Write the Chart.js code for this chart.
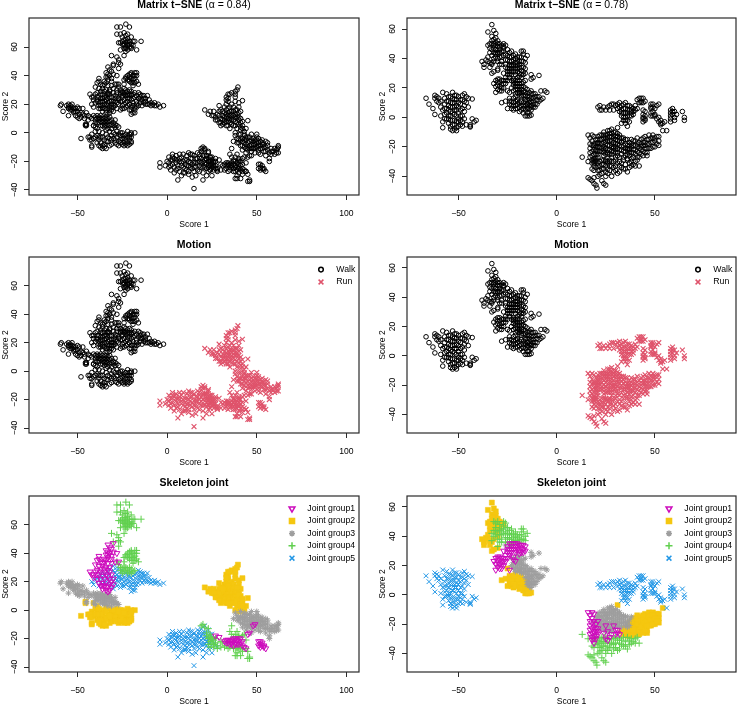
<!DOCTYPE html>
<html>
<head>
<meta charset="utf-8">
<title>Matrix t-SNE</title>
<script src="https://cdn.jsdelivr.net/npm/chart.js@4/dist/chart.umd.js"></script>
<style>
  html, body { margin: 0; padding: 0; background: #fff; }
  body { position: relative; width: 737px; height: 707px; overflow: hidden; }
  canvas { position: absolute; }
</style>
</head>
<body>
<script>
// alpha = 0.84 embedding
const leftJoint1Walk = [[-30,47],[-33,46],[-32,44],[-31,43],[-33,41],[-32,40],[-34,39],[-31,38],[-33,37],[-35,36],[-31,36],[-38,38],[-39,35],[-37,34],[-35,34],[-33,33],[-31,33],[-29,34],[-27,34],[-28,40],[-40,32],[-38,31],[-36,31],[-34,30],[-32,30],[-39,28],[-37,27],[-35,27],[-32,27],[-43,27],[-42,25],[-40,27],[-41,23],[-38,25],[-36,24],[-33,24],[-31,25],[-30,22],[-32,22],[-34,20],[-36,19],[-38,19],[-37,17],[-35,17],[-33,17],[-31,16],[-36,15],[-34,14],[-33,13],[-32,14],[-30,18],[-31,20],[-39,22],[-35,22],[-34,42],[-33,39],[-36,33],[-34,35],[-37,29],[-35,29],[-33,28],[-41,25],[-39,25],[-37,22],[-34,25],[-36,17.5],[-34,16],[-32,18],[-38,36],[-30,41]];
const leftJoint1Run = [[32,-22],[33,-23],[34,-21],[34,-23],[35,-24],[36,-21],[36,-23],[37,-22],[37,-25],[38,-20],[38,-23],[39,-21],[39,-24],[40,-22],[41,-20],[41,-23],[42,-25],[43,-26],[44,-27],[45,-17],[46,-16],[48,-11],[49,-10],[51,-22],[52,-24],[52,-22],[53,-23],[53,-25],[51,-25],[54,-25],[54,-26],[55,-27],[52,-26],[27,-18],[29,-19],[36,-24],[42,-22],[33,-21],[35,-22],[37,-20],[38,-24],[40,-24],[40,-20]];
const leftJoint2Walk = [[-48,-4],[-45.5,6],[-45.5,5],[-42,-1],[-44,-3],[-43,-5],[-41,-4],[-41,5],[-39,3],[-40,1],[-42,-9],[-42,-10],[-39,-2],[-38,-5],[-37,-3],[-36,-9],[-36,-11],[-37,-10],[-35,-8],[-34,-11],[-35,-5],[-33,-3],[-33,-6],[-32,-9],[-31,-8],[-36,0],[-34,2],[-32,1],[-31,-2],[-30,-4],[-29,-1],[-28,1],[-28,-3],[-27,-6],[-27,-9],[-26,-2],[-26,-5],[-25,0],[-25,-8],[-24,-4],[-24,-7],[-24,-9],[-23,-1],[-23,-5],[-22,1],[-22,-3],[-22,-7],[-22,-9],[-21,-5],[-21,-1],[-20,-3],[-20,0],[-20,-7],[-20,-6],[-18,0],[-30,0],[-38,1],[-39,-7],[-43,-3],[-42,-5],[-40,-3],[-38,-3],[-36,-3],[-34,-6],[-34,-1],[-31,-5],[-29,-5],[-29,-7],[-28,-8],[-26,-7],[-25,-4],[-23,-3],[-23,-8],[-21,-3],[-21,-8],[-20,-1],[-26,0],[-32,-4],[-37,-7],[-27,-1],[-24,-2],[-35,-10],[-38,-9]];
const leftJoint2Run = [[21,16],[23,13],[24,15],[26,15],[25,12],[27,11],[28,13],[29,15],[28,9],[30,10],[30,7],[29,19],[30,16],[32,18],[33,20],[34,22],[33,25],[35,27],[36,28],[34,24],[35,18],[36,20],[38,25],[38,29],[39,30],[39.5,32],[38,22],[40,21],[42,22.5],[32,14],[32,11],[33,8],[33,5],[34,14],[34,10],[35,12],[35,7],[36,15],[36,9],[37,12],[37,5],[38,16],[38,8],[39,11],[39,3],[40,14],[40,6],[41,10],[41,2],[42,5],[43,1],[44,3],[45,8.5],[30,5],[31,12],[35,3],[38,0],[40,-1],[43,-1],[26,12],[33,16],[37,18],[40,18],[41,15],[36,6],[32,7],[34,5],[31,9],[31,6],[32,9],[33,11],[33,13],[34,8],[34,12],[34,17],[35,9],[35,15],[36,11],[36,13],[37,9],[37,15],[38,11],[38,5],[38,13],[39,7],[39,13],[39,16],[40,9],[40,11],[41,7],[41,4],[42,8],[42,3],[29,12],[31,15],[27,9],[29,7],[34,27],[33,23],[38,27]];
const leftJoint3Walk = [[-59.5,19],[-59,20],[-58,15],[-55,20],[-54,19],[-53,20],[-55,17],[-54,16],[-53,18],[-52,17],[-51,17],[-50,18],[-49,17],[-47,17],[-55,12],[-52,14],[-51,12],[-50,11],[-49,10],[-48,14],[-47,13],[-46,12],[-45,14],[-44,12],[-43,11],[-42,10],[-41,12],[-40,11],[-39,12],[-38,11],[-37,12],[-36,11],[-35,10],[-34,9],[-33,10],[-32,8],[-31,9],[-30,7],[-38,9],[-37,8],[-36,7],[-35,6],[-34,7],[-33,6],[-32,5],[-30,5],[-29,4],[-28,5],[-39,7],[-41,5],[-40,4],[-37,5],[-35,4],[-33,3],[-45,6],[-45,5],[-29,9],[-27,4],[-56,19],[-55,18],[-54,17.5],[-52,15],[-50,15],[-49,13],[-48,11],[-46,10],[-44,9],[-40,9],[-39,10],[-36,9],[-35,8],[-34,11],[-33,8],[-32,11],[-31,6],[-37,10],[-38,7],[-36,5],[-34,5],[-31,3],[-29,6],[-40,7],[-51,15],[-53,16]];
const leftJoint3Run = [[37,-6],[38,-2],[39,-4],[40,-7],[41,-1],[41,-9],[42,-4],[42,-6],[43,-10],[43,-2],[44,-5],[44,-8],[45,-3],[45,-12],[46,-6],[46,-9],[47,-1],[47,-13],[48,-4],[48,-8],[48,-11],[49,-5],[49,-14],[50,-3],[50,-7],[50,-10],[51,-4],[51,-12],[52,-6],[52,-9],[52,-15],[53,-5],[53,-11],[54,-8],[54,-13],[55,-6],[55,-10],[55,-16],[56,-9],[56,-12],[57,-18],[57,-14],[57,-20],[58,-15],[58,-11],[59,-13],[60,-15],[60,-11],[61,-12],[62,-10],[62,-14],[62,-9],[61.5,-11],[47,-16],[44,-14],[40,-5],[42,-12],[50,-1],[41,-5],[42,-9],[43,-7],[44,-11],[45,-7],[46,-3],[46,-11],[47,-5],[47,-8],[48,-6],[49,-8],[49,-11],[50,-5],[51,-7],[51,-9],[52,-11],[53,-8],[53,-7],[54,-10],[56,-7],[45,-10],[44,-3],[58,-13],[61,-14],[47,-11],[43,-5],[39,-7],[55,-13],[51,-14]];
const leftJoint4Walk = [[-28,74],[-26,74],[-23,76],[-21,74],[-28,69],[-26,69],[-24,70],[-23,68],[-22,66],[-20,67],[-27,63],[-26,63],[-25,64],[-24,65],[-23,63],[-22,62],[-21,64],[-20,62],[-19,64],[-18,64],[-14.5,64],[-26,58],[-24,59],[-23,57],[-22,58],[-22,61],[-21,60],[-20,59],[-17,58],[-24,54],[-23,60],[-24,61],[-31,54],[-28,53],[-27,51],[-26,48],[-27,45],[-27,49],[-30,48],[-24,37],[-23,38],[-22,37],[-22,40],[-21,36],[-20,38],[-20,41],[-19,37],[-19,40],[-18,42],[-18,38],[-17,36],[-16,34],[-18,35],[-20,35],[-19,33],[-21,39],[-24,34],[-17,40],[-17,42],[-20,42],[-27,32],[-28,34],[-26,30],[-25,29],[-24,31],[-24,27],[-23,28],[-22,29],[-22,26],[-21,27],[-20,26],[-20,29],[-19,27],[-25,62],[-23,65],[-22,64],[-24,62],[-21,62],[-20,60],[-23,59],[-22,69],[-25,67],[-19,61],[-23,39],[-21,41],[-21,37],[-19,35],[-18,40],[-26,28],[-23,30],[-25,26],[-18,28],[-21,30]];
const leftJoint4Run = [[19,-11],[20,-10],[21,-12],[23,-13],[22,-16],[24,-17],[23,-20],[25,-19],[24,-22],[26,-21],[25,-24],[26,-24],[27,-23],[28,-25],[30,-26],[28,-27],[32,-26],[34,-27],[35,-26],[36,-11],[35,-15],[36,-17],[37,-19],[39,-15],[40,-19],[43,-17],[37,-27],[39,-26],[40,-28],[38,-32],[39,-32],[41,-32],[42,-27],[44,-27],[45,-29],[46,-33],[46,-34],[45,-34],[39,-30],[42,-29],[40,-25],[25,-21],[23,-24],[27,-20],[24,-19],[22,-18],[26,-26],[33,-25],[38,-27],[41,-26],[34,-22],[40,-18],[38,-17],[24,-26],[31,-23],[30,-22],[44,-21],[42,-18]];
const leftJoint5Walk = [[-42,20],[-40,21],[-39,23],[-38,21],[-37,24],[-36,22],[-34,23],[-33,27],[-32,25],[-30,28],[-29,26],[-28,30],[-33,21],[-31,22],[-29,22],[-27,24],[-25,25],[-24,23],[-22,24],[-20,23],[-31,18],[-29,19],[-27,20],[-25,19],[-26,16],[-24,17],[-23,21],[-22,19],[-21,16],[-20,18],[-19,21],[-18,18],[-17,20],[-16,24],[-16,28],[-15,25],[-14,23],[-14,19],[-13,26],[-12,24],[-11,26],[-12,22],[-11,20],[-10,23],[-9,21],[-8,20],[-7,21],[-6,19],[-5,20],[-4,18],[-2,19],[-19,14],[-20,13],[-20,16],[-18,16],[-21,24],[-23,26],[-26,27],[-25,22],[-28,17],[-30,15],[-27,23],[-18,25],[-17,22],[-15,21],[-20,27],[-13,21],[-28,25],[-36,27],[-35,25],[-41,18],[-38,17],[-37,19],[-35,20],[-33,19],[-32,16],[-30,20],[-29,24],[-28,21],[-26,22],[-25,17],[-24,20],[-23,18],[-22,22],[-21,20],[-19,24],[-19,19],[-17,26],[-17,18],[-15,27],[-15,23],[-14,26],[-13,24],[-12,20],[-10,20],[-9,19],[-7,19],[-25,28],[-22,27],[-32,29],[-30,31],[-28,28],[-18,14],[-21,20],[-16,19]];
const leftJoint5Run = [[-4,-21],[-4,-24],[-1,-23],[0,-20],[1,-17],[1,-21],[1,-24],[2,-19],[2,-26],[3,-15],[3,-22],[4,-24],[4,-28],[4,-18],[5,-16],[5,-21],[5,-26],[6,-33],[6,-19],[6,-23],[7,-15],[7,-27],[8,-21],[8,-17],[9,-24],[9,-15],[9,-28],[10,-19],[10,-22],[11,-16],[11,-26],[12,-14],[12,-29],[12,-20],[13,-24],[13,-18],[14,-31],[14,-15],[15,-21],[15,-39],[15,-27],[16,-18],[16,-24],[16,-30],[17,-14],[17,-21],[18,-27],[18,-17],[19,-24],[19,-13],[20,-20],[20,-33],[20,-28],[21,-16],[21,-24],[22,-30],[22,-19],[23,-27],[23,-14],[24,-17],[24,-26],[25,-30],[27,-25],[28,-26],[3,-19],[7,-20],[11,-23],[14,-25],[18,-20],[22,-22],[2,-23],[3,-17],[5,-19],[6,-25],[7,-18],[8,-23],[9,-20],[10,-25],[11,-19],[12,-23],[13,-15],[13,-21],[14,-18],[14,-22],[15,-16],[15,-24],[16,-21],[17,-18],[17,-26],[18,-23],[18,-15],[19,-18],[19,-21],[20,-16],[20,-24],[21,-19],[21,-21],[22,-16],[22,-25],[23,-20],[23,-23],[24,-20],[24,-23],[25,-17],[25,-22],[26,-20],[26,-23],[21,-11],[20,-12],[10,-28],[8,-30],[12,-27]];

// alpha = 0.78 embedding
const rightJoint1Walk = [[-32,23],[-31,21],[-31,25],[-31,17],[-30,22],[-30,19],[-30,26],[-29,24],[-29,21],[-28,25],[-28,18],[-28,22],[-27,20],[-27,25],[-26,23],[-26,27],[-25,33],[-25,29],[-25,25],[-24,35],[-24,31],[-24,27],[-23,33],[-23,29],[-22,35],[-22,31],[-22,26],[-21,33],[-21,29],[-20,35],[-20,31],[-19,34],[-19,28],[-18,32],[-18,29],[-17,34],[-17,31],[-16,33],[-16,30],[-22,24],[-24,17],[-21,23],[-27,30],[-30,24],[-29,18],[-27,23],[-28,20],[-26,25],[-24,29],[-23,31],[-23,35],[-21,31],[-21,35],[-20,33],[-19,30],[-18,34],[-17,29],[-25,31],[-29,26]];
const rightJoint1Run = [[16,-12],[17,-14],[18,-12],[18,-16],[19,-13],[18,-19],[19,-22],[20,-20],[17,-24],[18,-26],[19,-28],[20,-25],[21,-23],[18,-23],[19,-25],[17,-27],[20,-28],[19,-33],[18,-31],[21,-27],[25,-21],[26,-25],[27,-29],[26,-31],[25,-30],[30,-24],[31,-26],[32,-27],[29,-21],[30,-27],[24,-26],[21,-18],[17,-18],[19,-18],[20,-23],[18,-29],[19,-30],[17,-21],[20,-30],[21,-25],[28,-27],[31,-24]];
const rightJoint2Walk = [[-33,63],[-35,58],[-32,59],[-31,57],[-33,55],[-31,54],[-33,52],[-32,49],[-30,52],[-29,50],[-35,49],[-34,47],[-34,44],[-31,46],[-36,39],[-38,38],[-37,36],[-37,34],[-35,41],[-33,36],[-32,38],[-32,31],[-33,30],[-30,32],[-30,40],[-28,49],[-27,48],[-31,43],[-29,46],[-28,10],[-26,11],[-25,6],[-25,18],[-24,13],[-24,9],[-23,6],[-22,10],[-22,5],[-21,14],[-21,8],[-20,12],[-20,6],[-19,17],[-19,10],[-19,4],[-18,14],[-18,8],[-17,6],[-17,3],[-16,11],[-16,1],[-15,6],[-14,1],[-14,3],[-13,1.5],[-21,11],[-23,8],[-18,11],[-15,9],[-20,9],[-33,50],[-32,53],[-31,51],[-34,50],[-30,48],[-33,46],[-32,47],[-30,44],[-35,38],[-34,37],[-34,34],[-24,11],[-22,8],[-21,6],[-20,11],[-19,7],[-18,5],[-17,10],[-17,8],[-16,5],[-16,8],[-15,3],[-15,1],[-23,11],[-22,13]];
const rightJoint2Run = [[31,-7],[54,-9],[33,-25],[34,-27],[35,-23],[36,-25],[36,-28],[37,-22],[37,-26],[38,-24],[38,-20],[38,-28],[39,-16],[39,-22],[40,-19],[40,-25],[41,-14],[41,-23],[42,-17],[42,-21],[42,-27],[43,-15],[43,-25],[44,-19],[44,-23],[45,-13],[45,-17],[45,-21],[46,-26],[46,-24],[46,-15],[47,-12],[47,-18],[48,-14],[48,-21],[49,-12],[49,-17],[50,-14],[50,-20],[51,-13],[52,-13],[52,-16],[52,-19],[41,-27],[34,-23],[43,-20],[35,-26],[36,-21],[37,-19],[37,-24],[39,-27],[39,-19],[40,-22],[40,-16],[41,-18],[41,-20],[42,-24],[43,-18],[43,-22],[44,-14],[44,-17],[44,-26],[45,-19],[45,-24],[46,-18],[46,-21],[47,-15],[47,-21],[48,-17],[49,-14],[49,-20],[50,-16],[51,-18],[39,-24],[38,-18]];
const rightJoint3Walk = [[-26,34],[-24,33],[-23,25],[-23,20],[-22,22],[-22,18],[-21,25],[-21,21],[-21,16],[-20,27],[-20,23],[-20,19],[-19,25],[-19,21],[-19,16],[-18,27],[-18,23],[-18,19],[-18,15],[-17,21],[-17,18],[-16,25],[-16,15],[-16,12],[-15,19],[-15,16],[-15,12],[-14,14],[-14,10],[-14,6],[-14,17],[-13,29],[-13,26],[-13,18],[-13,13],[-13,8],[-13,5],[-12,16],[-12,11],[-12,7],[-12,27],[-11,14],[-11,9],[-11,16],[-10,12],[-9,28.5],[-9,14],[-8,18],[-8,12],[-7,13],[-6,18],[-5,17],[-10,9],[-22,25],[-21,19],[-20,25],[-20,21],[-20,17],[-19,23],[-19,18],[-18,21],[-18,17],[-17,24],[-17,15],[-16,20],[-16,17],[-15,14],[-15,9],[-14,12],[-14,8],[-13,11],[-13,16],[-12,9],[-12,13],[-11,7],[-10,14],[-9,11],[-13,7],[-15,7]];
const rightJoint3Run = [[19,-19],[20,-15],[20,-22],[21,-17],[21,-13],[22,-20],[22,-15],[23,-12],[23,-18],[23,-23],[24,-14],[24,-10],[24,-20],[25,-16],[25,-12],[25,-25],[26,-9],[26,-14],[26,-19],[26,-22],[27,-11],[27,-16],[27,-25],[28,-13],[28,-8],[28,-20],[29,-12],[29,-17],[29,-23],[30,-10],[30,-15],[30,-20],[31,-13],[31,-18],[32,-16],[32,-22],[33,-14],[33,-20],[34,-16],[35,-18],[36,-22],[36,-15],[37,-17],[28,-25],[24,-24],[32,-12],[20,-18],[21,-20],[21,-15],[22,-18],[22,-12],[22,-23],[23,-15],[23,-21],[24,-17],[24,-12],[24,-22],[25,-14],[25,-18],[25,-21],[26,-12],[26,-16],[26,-24],[27,-9],[27,-13],[27,-19],[27,-22],[28,-11],[28,-16],[28,-18],[28,-23],[29,-10],[29,-14],[29,-20],[30,-13],[30,-18],[30,-22],[31,-11],[31,-16],[31,-21],[32,-14],[32,-19],[33,-17],[33,-22],[34,-14],[34,-19],[35,-15],[35,-21],[36,-19],[37,-21],[38,-15]];
const rightJoint4Walk = [[-33,42],[-32,40],[-33,37],[-32,50],[-31,49],[-31,44],[-30,38],[-29,48],[-29,44],[-28,41],[-27,50],[-27,45],[-26,39],[-26,49],[-25,46],[-25,42],[-24,38],[-24,36],[-23,41],[-23,45],[-22,39],[-22,42],[-21,37],[-20,41],[-20,39],[-19,38],[-18,45],[-18,41],[-17,43],[-16,40],[-16,37],[-15,42],[-19,36],[-28,36],[-30,33],[-27,42],[-31,41],[-31,46],[-30,50],[-30,43],[-29,41],[-28,45],[-28,38],[-27,47],[-26,43],[-26,36],[-25,39],[-24,44],[-24,41],[-23,38],[-22,36],[-21,40],[-21,43],[-20,37],[-19,41],[-18,38],[-17,38],[-17,45],[-23,35],[-32,44],[-29,36]];
const rightJoint4Run = [[13,-27],[16,-30],[16,-41],[17,-42],[18,-43],[19,-45],[20,-46],[20.5,-48],[19,-41],[21,-40],[22,-39],[23,-43],[24,-45],[25,-46],[18,-35],[19,-31],[20,-34],[21,-31],[21,-36],[22,-33],[23,-29],[23,-35],[24,-32],[25,-37],[25,-29],[26,-35],[27,-33],[28,-40],[28,-30],[29,-37],[30,-33],[31,-38],[31,-31],[32,-37],[33,-34],[34,-29],[34,-35],[35,-32],[36,-37],[36,-29],[37,-34],[38,-30],[39,-32],[40,-33],[41,-29],[42,-33],[30,-29],[25,-40],[23,-38],[19,-36],[20,-29],[21,-33],[22,-30],[22,-36],[23,-32],[24,-29],[24,-35],[25,-33],[26,-30],[26,-38],[27,-30],[27,-36],[28,-33],[29,-30],[29,-34],[30,-36],[32,-30],[32,-33],[33,-31],[35,-35],[37,-31],[38,-33],[40,-30],[19,-29]];
const rightJoint5Walk = [[-66.5,13],[-65,9],[-62,15],[-62,13],[-61,11],[-61,14],[-60,10],[-63,6],[-59,7],[-62,2],[-58,17],[-58,5],[-58,-3],[-58,-7],[-57,13],[-57,9],[-57,2],[-56,16],[-56,11],[-56,6],[-56,-1],[-55,14],[-55,8],[-55,-4],[-54,10],[-54,4],[-54,1],[-54,-6],[-53,17],[-53,13],[-53,7],[-53,-2],[-53,-9],[-52,15],[-52,10],[-52,5],[-52,-5],[-52,-8],[-51,12],[-51,8],[-51,1],[-51,-3],[-51,-7],[-50,3],[-50,-1],[-50,14],[-50,-6],[-49,9],[-49,5],[-49,-5],[-48,15],[-48,12],[-48,1],[-48,-3],[-47,16],[-47,11],[-47,8],[-46,-5],[-46,14],[-45,13],[-45,7],[-46,10],[-43,12.5],[-44,-5],[-44,-6],[-44,-6.5],[-43,-1],[-42,-3],[-41,-2],[-47,-1],[-55,-1],[-59,1],[-60,13],[-59,11],[-57,6],[-57,-1],[-56,3],[-55,11],[-55,5],[-55,1],[-54,14],[-54,7],[-54,-2],[-53,10],[-53,3],[-53,-5],[-52,12],[-52,7],[-52,2],[-52,-2],[-51,15],[-51,5],[-50,10],[-50,7],[-50,-3],[-49,12],[-49,1],[-49,-2],[-48,6],[-48,-6],[-47,4],[-51,-9],[-54,-8]];
const rightJoint5Run = [[21,7],[22,5],[22,8],[23,5],[24,7],[25,5],[26,7],[27,8],[27,5],[28,9],[29,9],[29,5],[30,8],[31,9],[32,10],[32,7],[32,4],[33,8],[33,5],[33,1],[33,-4],[34,9],[34,3],[34,-2],[35,10],[35,6],[35,0],[35,-4],[36,8],[36,3],[36,-6],[37,5],[37,1],[37,-3],[38,7],[38,3],[39,6],[39,2],[40,5],[40,8],[41,12],[42,10],[42,13],[43,11],[44,13],[44,10],[45,11],[44,5],[44,2],[44,-1],[44,-3],[45,4],[45,1],[45,-2],[48,9],[48,6],[48,3],[48,1],[49,9],[49,7],[49,4],[50,2],[50,1],[51,8],[52,9],[52,0],[52,-3],[53,-2],[53,-5],[54,-4],[55,-3],[56,-9],[58,5],[58,3],[58,-1],[58,-3],[59,6],[59,2],[60,4],[60,0],[60,-2],[61,2],[64,4],[65,0],[65,-2],[51,-1],[31,6],[33,3],[34,6],[34,0],[35,3],[35,-2],[36,5],[36,1],[36,-2],[37,8],[38,5],[38,1],[39,4],[41,6],[43,13],[43,10],[49,1],[50,6],[48,7],[53,-4],[58,1],[59,4],[44,0],[45,-1]];

const leftXTicks = [-50, 0, 50, 100];
const rightXTicks = [-50, 0, 50];
const yTicks = [-40, -20, 0, 20, 40, 60];

const motionLabels = ['Walk', 'Run'];
const jointLabels = ['Joint group1', 'Joint group2', 'Joint group3', 'Joint group4', 'Joint group5'];

const FONT = '"Liberation Sans", Arial, sans-serif';
const AXIS_COLOR = '#2a2a2a';

const OPEN_CIRCLE = { pointStyle: 'circle', radius: 2.3, color: '#000000', fill: 'transparent', width: 1 };
const RUN_CROSS = { pointStyle: 'crossRot', radius: 3.4, color: '#DF536B', fill: 'transparent', width: 1.1 };
const JOINT_STYLES = [
    { pointStyle: 'triangle', rotation: 180, radius: 3.4, color: '#CD0BBC', fill: 'transparent', width: 1, order: 1 },
    { pointStyle: 'rect', radius: 3.6, color: '#F5C710', fill: '#F5C710', width: 0.5, order: 5 },
    { pointStyle: 'star', radius: 3, color: '#9E9E9E', fill: 'transparent', width: 1, order: 3 },
    { pointStyle: 'cross', radius: 3.5, color: '#61D04F', fill: 'transparent', width: 1, order: 2 },
    { pointStyle: 'crossRot', radius: 3.4, color: '#2297E6', fill: 'transparent', width: 1, order: 4 },
];

const toPoints = pairs => pairs.map(([x, y]) => ({ x, y }));

function makeDataset(label, pairs, style) {
    return {
        label,
        data: toPoints(pairs),
        order: style.order ?? 0,
        pointStyle: style.pointStyle,
        pointRotation: style.rotation ?? 0,
        pointRadius: style.radius,
        pointBorderColor: style.color,
        pointBackgroundColor: style.fill,
        pointBorderWidth: style.width,
        legendStyle: style,
    };
}

const leftWalk = [leftJoint1Walk, leftJoint2Walk, leftJoint3Walk, leftJoint4Walk, leftJoint5Walk];
const leftRun = [leftJoint1Run, leftJoint2Run, leftJoint3Run, leftJoint4Run, leftJoint5Run];
const rightWalk = [rightJoint1Walk, rightJoint2Walk, rightJoint3Walk, rightJoint4Walk, rightJoint5Walk];
const rightRun = [rightJoint1Run, rightJoint2Run, rightJoint3Run, rightJoint4Run, rightJoint5Run];

function plainSets(walk, run) {
    return [makeDataset('All', [...walk.flat(), ...run.flat()], OPEN_CIRCLE)];
}
function motionSets(walk, run) {
    return [
        makeDataset(motionLabels[0], walk.flat(), OPEN_CIRCLE),
        makeDataset(motionLabels[1], run.flat(), RUN_CROSS),
    ];
}
function jointSets(walk, run) {
    return jointLabels.map((label, i) => makeDataset(label, [...walk[i], ...run[i]], JOINT_STYLES[i]));
}

// title made of runs so the bold name and the plain alpha part can share a line
const runTitle = {
    id: 'runTitle',
    afterDraw(chart, args, opts) {
        const { ctx, chartArea } = chart;
        ctx.save();
        ctx.textBaseline = 'middle';
        ctx.fillStyle = '#000';
        let total = 0;
        const runs = opts.runs.map(r => {
            ctx.font = r.font;
            const w = ctx.measureText(r.text).width;
            total += w;
            return { ...r, w };
        });
        let x = (chartArea.left + chartArea.right) / 2 - total / 2;
        runs.forEach(r => {
            ctx.font = r.font;
            ctx.fillText(r.text, x, chartArea.top - opts.gap);
            x += r.w;
        });
        ctx.restore();
    },
};

// closed frame around the plot region
const plotBox = {
    id: 'plotBox',
    afterDraw(chart) {
        const { ctx, chartArea: a } = chart;
        ctx.save();
        ctx.strokeStyle = AXIS_COLOR;
        ctx.lineWidth = 1.2;
        ctx.strokeRect(a.left, a.top, a.right - a.left, a.bottom - a.top);
        ctx.restore();
    },
};

// borderless key inside the plot, top right
const insideKey = {
    id: 'insideKey',
    afterDraw(chart, args, opts) {
        if (!opts.offset) return;
        const { ctx, chartArea: a } = chart;
        const x = a.right - opts.offset;
        ctx.save();
        ctx.font = `8.7px ${FONT}`;
        ctx.textBaseline = 'middle';
        chart.data.datasets.forEach((ds, i) => {
            const y = a.top + 12.6 + i * 12.4;
            const s = ds.legendStyle;
            ctx.strokeStyle = s.color;
            ctx.fillStyle = s.fill;
            ctx.lineWidth = 1.5;
            Chart.helpers.drawPoint(ctx, { pointStyle: s.pointStyle, rotation: s.rotation ?? 0, radius: s.radius, borderWidth: 1.5 }, x, y);
            ctx.fillStyle = '#000';
            ctx.fillText(ds.label, x + 15.3, y);
        });
        ctx.restore();
    },
};

const tickText = v => String(v).replace('-', '\u2212');

function makeAxis(min, max, ticks, title, extra) {
    return {
        type: 'linear',
        min,
        max,
        afterBuildTicks: axis => { axis.ticks = ticks.map(value => ({ value })); },
        border: { display: false },
        grid: { drawOnChartArea: false, drawTicks: true, tickLength: 5, tickColor: AXIS_COLOR, tickWidth: 1 },
        title: { display: true, text: title, color: '#000', font: { family: FONT, size: 8.6 }, padding: extra.titlePad },
        ticks: { autoSkip: false, color: '#000', font: { family: FONT, size: 8.6 }, callback: tickText, ...extra.ticks },
        afterFit: extra.afterFit,
    };
}

// the right column canvas runs past the window so the last x label keeps its room
const columns = [
    { left: 0, width: 368, boxLeft: 29, boxRight: 359, xMin: -77, xMax: 107, xTicks: leftXTicks, yRange: [-43.5, 80.3], yTitle: 0, walk: leftWalk, run: leftRun },
    { left: 368, width: 376, boxLeft: 39, boxRight: 368, xMin: -76.2, xMax: 91.3, xTicks: rightXTicks, yRange: [-52.7, 67.5], yTitle: 9.6, walk: rightWalk, run: rightRun },
];
const rows = [
    { top: 0, boxTop: 18, boxBottom: 195, gap: 13, build: plainSets, key: 0 },
    { top: 236, boxTop: 257, boxBottom: 433, gap: 12.3, build: motionSets, key: 38 },
    { top: 474, boxTop: 496, boxBottom: 672, gap: 12.4, build: jointSets, key: 67 },
];
const rowTitles = [null, 'Motion', 'Skeleton joint'];
const alphaLabels = ['(\u03B1 = 0.84)', '(\u03B1 = 0.78)'];

function titleRuns(rowIndex, colIndex) {
    if (rowIndex === 0) {
        return [
            { text: 'Matrix t\u2212SNE ', font: `bold 10.5px ${FONT}` },
            { text: alphaLabels[colIndex], font: `10.5px ${FONT}` },
        ];
    }
    return [{ text: rowTitles[rowIndex], font: `bold 10.5px ${FONT}` }];
}

rows.forEach((row, r) => {
    columns.forEach((col, c) => {
        const canvas = document.createElement('canvas');
        const height = row.boxBottom + 35 - row.top;
        canvas.width = col.width;
        canvas.height = height;
        canvas.style.left = col.left + 'px';
        canvas.style.top = row.top + 'px';
        document.body.appendChild(canvas);

        new Chart(canvas, {
            type: 'scatter',
            data: { datasets: row.build(col.walk, col.run) },
            plugins: [plotBox, runTitle, insideKey],
            options: {
                responsive: false,
                animation: false,
                layout: { padding: { left: 0, top: row.boxTop - row.top, right: col.width - col.boxRight, bottom: 0 } },
                plugins: {
                    legend: { display: false },
                    tooltip: { enabled: false },
                    runTitle: { runs: titleRuns(r, c), gap: row.gap },
                    insideKey: { offset: row.key },
                },
                scales: {
                    x: makeAxis(col.xMin, col.xMax, col.xTicks, 'Score 1', {
                        titlePad: { top: -1.8, bottom: 0 },
                        ticks: { padding: 8, maxRotation: 0 },
                        afterFit: s => { s.height = 35; },
                    }),
                    y: makeAxis(col.yRange[0], col.yRange[1], yTicks, 'Score 2', {
                        titlePad: { top: col.yTitle, bottom: 0 },
                        ticks: { padding: 2, minRotation: 90, maxRotation: 90, crossAlign: 'center' },
                        afterFit: s => { s.width = col.boxLeft; },
                    }),
                },
            },
        });
    });
});
</script>
</body>
</html>
